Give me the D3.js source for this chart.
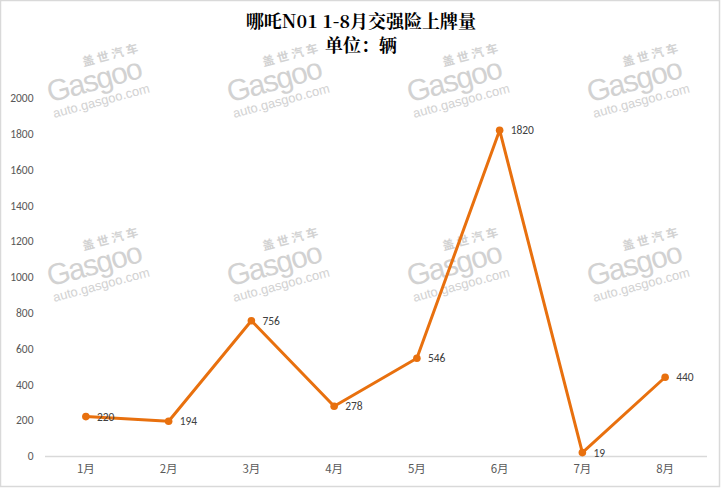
<!DOCTYPE html>
<html><head><meta charset="utf-8">
<script src="https://cdn.jsdelivr.net/npm/d3@7"></script>
<style>body{margin:0;background:#fff}svg{display:block}</style>
</head><body>
<script>
const categories = ["1月","2月","3月","4月","5月","6月","7月","8月"];
const values = [220,194,756,278,546,1820,19,440];
const yTicks = [0,200,400,600,800,1000,1200,1400,1600,1800,2000];
const titleLines = ["哪吒N01 1-8月交强险上牌量","单位：辆"];

const W=721,H=489;
const svg=d3.select("body").append("svg").attr("width",W).attr("height",H);
svg.append("rect").attr("x",0.5).attr("y",0.5).attr("width",W-2).attr("height",H-3)
  .attr("fill","#fff").attr("stroke","#d9d9d9").attr("stroke-width",1.5);

// watermarks
const wmCols=[88,268,448,628], wmRows=[82,266];
wmRows.forEach(ry=>wmCols.forEach(cx=>{
  const g=svg.append("g").attr("transform",`translate(${cx},${ry}) rotate(-15)`).attr("fill","#d2d2d2")
    .attr("font-family","Arial, 'Liberation Sans', sans-serif");
  g.append("text").attr("x",0).attr("y",-16).attr("font-size",12).attr("font-weight","bold")
    .attr("font-family","'Noto Sans CJK SC'").attr("letter-spacing",3).text("盖世汽车");
  g.append("text").attr("x",-42).attr("y",10).attr("font-size",30).attr("letter-spacing",-1.5).text("Gasgoo");
  g.append("text").attr("x",-42).attr("y",26).attr("font-size",13).text("auto.gasgoo.com");
}));

const m={l:44.5,r:706.5,t:98,b:456};
const x=d3.scaleBand().domain(categories).range([m.l,m.r]);
const y=d3.scaleLinear().domain([0,2000]).range([m.b,m.t]);

// title
svg.append("g").selectAll("text").data(titleLines).join("text")
  .attr("x",361).attr("y",(d,i)=>28+i*24).attr("text-anchor","middle")
  .attr("font-family","'Noto Serif CJK SC','Noto Sans CJK SC',serif").attr("font-weight","bold")
  .attr("font-size",18).attr("fill","#000").text(d=>d);

// y axis
const ya=svg.append("g").attr("transform",`translate(${m.l},0)`)
  .call(d3.axisLeft(y).tickValues(yTicks).tickSize(0).tickPadding(11).tickFormat(d3.format("d")));
ya.select(".domain").remove();
ya.selectAll("text").attr("font-family","Calibri,Carlito,'Liberation Sans',sans-serif").attr("font-size",11.5).attr("fill","#595959");

// x axis
const xa=svg.append("g").attr("transform",`translate(0,${m.b})`)
  .call(d3.axisBottom(x).tickSize(0).tickPadding(9));
xa.select(".domain").attr("stroke","#d9d9d9").attr("stroke-width",1.3);
xa.selectAll("text").attr("font-family","'Noto Sans CJK SC',sans-serif").attr("font-size",11.5).attr("fill","#595959");

const cx=d=>x(d)+x.bandwidth()/2;
const line=d3.line().x((d,i)=>cx(categories[i])).y(d=>y(d));
svg.append("path").datum(values).attr("d",line).attr("fill","none")
  .attr("stroke","#e8700e").attr("stroke-width",3).attr("stroke-linejoin","round");
svg.append("g").selectAll("circle").data(values).join("circle")
  .attr("cx",(d,i)=>cx(categories[i])).attr("cy",d=>y(d)).attr("r",3.8).attr("fill","#e8700e");
svg.append("g").selectAll("text").data(values).join("text")
  .attr("x",(d,i)=>cx(categories[i])+11).attr("y",d=>y(d)+4)
  .attr("font-family","Calibri,Carlito,'Liberation Sans',sans-serif").attr("font-size",11.5).attr("fill","#404040")
  .text(d=>d);
</script>
</body></html>
